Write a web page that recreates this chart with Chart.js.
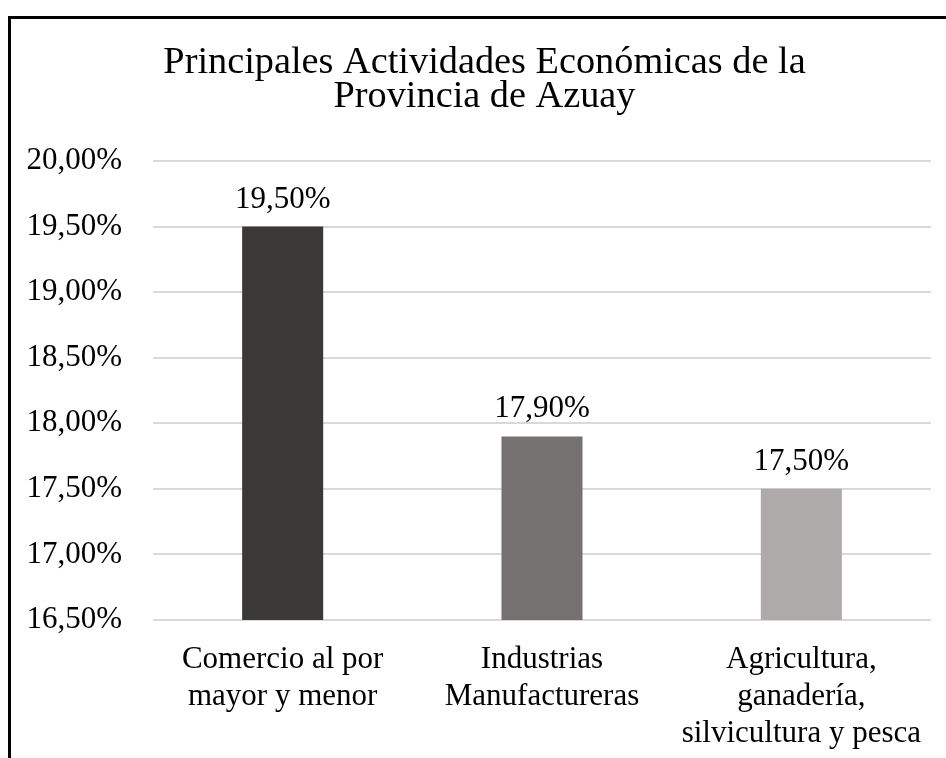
<!DOCTYPE html>
<html>
<head>
<meta charset="utf-8">
<script src="https://cdn.jsdelivr.net/npm/chart.js@4/dist/chart.umd.min.js"></script>
<style>
  html, body { margin: 0; padding: 0; background: #fff; overflow: hidden; }
  #wrap { position: relative; width: 946px; height: 758px; }
  #frame { position: absolute; left: 8px; top: 16px; width: 980px; height: 800px; border: 3px solid #000; box-sizing: border-box; pointer-events: none; }
  canvas { position: absolute; left: 0; top: 0; }
</style>
</head>
<body>
<div id="wrap">
  <canvas id="c" width="946" height="758"></canvas>
  <div id="frame"></div>
</div>
<script>
const titleLines = ["Principales Actividades Económicas de la", "Provincia de Azuay"];
const categories = [
  ["Comercio al por", "mayor y menor"],
  ["Industrias", "Manufactureras"],
  ["Agricultura,", "ganadería,", "silvicultura y pesca"]
];
const values = [19.5, 17.9, 17.5];
const barColors = ["#3B3838", "#767171", "#AEAAAA"];
const yMin = 16.5, yMax = 20, yStep = 0.5;

const fmt = v => v.toFixed(2).replace('.', ',') + '%';
const FONT = "'Liberation Serif', 'Times New Roman', serif";

const valueLabels = {
  id: 'valueLabels',
  afterDatasetsDraw(chart) {
    const ctx = chart.ctx;
    const meta = chart.getDatasetMeta(0);
    ctx.save();
    ctx.font = "31px " + FONT;
    ctx.fillStyle = "#000";
    ctx.textAlign = "center";
    ctx.textBaseline = "alphabetic";
    meta.data.forEach((bar, i) => {
      ctx.fillText(fmt(values[i]), bar.x, bar.y - 19);
    });
    ctx.restore();
  }
};

new Chart(document.getElementById('c'), {
  type: 'bar',
  data: {
    labels: categories,
    datasets: [{
      data: values,
      backgroundColor: barColors,
      borderWidth: 0,
      categoryPercentage: 1,
      barPercentage: 0.3125
    }]
  },
  options: {
    responsive: false,
    animation: false,
    devicePixelRatio: 1,
    layout: { padding: { left: 0, right: -23, top: 0, bottom: 0 } },
    plugins: {
      legend: { display: false },
      tooltip: { enabled: false },
      title: {
        display: true,
        text: titleLines,
        color: "#000",
        font: { family: FONT, size: 38.3, weight: 'normal', lineHeight: 0.9 },
        padding: { top: 45.5, bottom: 46.5 }
      }
    },
    scales: {
      x: {
        afterFit(scale) { scale.height = 138; },
        grid: { display: false, drawTicks: false },
        border: { display: false },
        ticks: {
          color: "#000",
          font: { family: FONT, size: 31, lineHeight: 1.2 },
          padding: 21,
          maxRotation: 0,
          autoSkip: false
        }
      },
      y: {
        min: yMin,
        max: yMax,
        afterFit(scale) { scale.width = 153; },
        grid: { color: "#D9D9D9", lineWidth: 2, drawTicks: false },
        border: { display: false },
        ticks: {
          stepSize: yStep,
          color: "#000",
          font: { family: FONT, size: 31 },
          padding: 31,
          callback: v => fmt(v)
        }
      },
      yRight: {
        position: 'right',
        afterFit(scale) { scale.width = 38; },
        grid: { display: false, drawTicks: false },
        border: { display: false },
        ticks: { display: false }
      }
    }
  },
  plugins: [valueLabels]
});
</script>
</body>
</html>
